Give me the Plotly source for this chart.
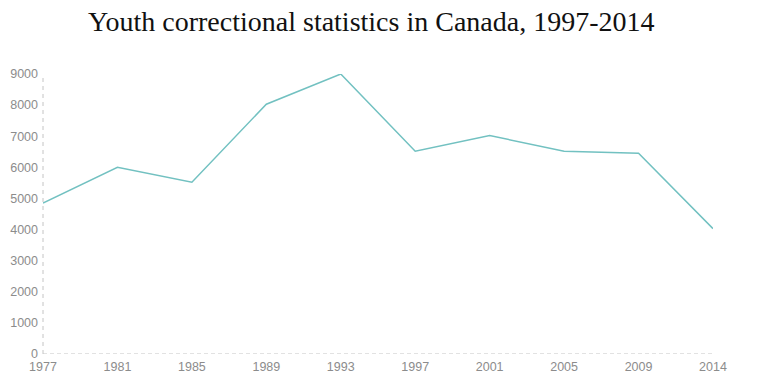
import plotly.graph_objects as go

years = ["1977", "1981", "1985", "1989", "1993", "1997", "2001", "2005", "2009", "2014"]
values = [4850, 6000, 5520, 8030, 9000, 6520, 7020, 6520, 6450, 4030]
y_ticks = [0, 1000, 2000, 3000, 4000, 5000, 6000, 7000, 8000, 9000]

fig = go.Figure()
fig.add_trace(go.Scatter(
    x=years, y=values, mode="lines",
    line=dict(color="#72c1c1", width=1.5),
    hoverinfo="x+y",
))

tick_font = dict(family="Liberation Sans, Arial, sans-serif", size=12.5, color="#8c8c8c")

fig.update_layout(
    width=764, height=387,
    margin=dict(l=43, r=51, t=74, b=33, autoexpand=False),
    paper_bgcolor="white", plot_bgcolor="white",
    showlegend=False,
    title=dict(
        text="Youth correctional statistics in Canada, 1997-2014",
        x=0.486, xanchor="center", y=0.945, yanchor="middle",
        font=dict(family="Liberation Serif, Times New Roman, serif", size=28, color="#111"),
        automargin=False,
    ),
    xaxis=dict(
        type="category", range=[0, 9], showgrid=False, zeroline=False, automargin=False,
        showline=False, ticks="", tickfont=tick_font,
        ticklabelstandoff=3,
    ),
    yaxis=dict(
        range=[0, 9000], tickvals=y_ticks, showgrid=False, zeroline=False, automargin=False,
        showline=False, ticks="", tickfont=tick_font,
        ticklabelstandoff=4,
    ),
    shapes=[
        dict(type="line", xref="paper", yref="y", x0=0, x1=1, y0=0, y1=0,
             line=dict(color="#c4c4c4", width=1, dash="4px,3px")),
        dict(type="line", xref="paper", yref="y", x0=0, x1=0, y0=0, y1=9000,
             line=dict(color="#c4c4c4", width=1, dash="4px,4px")),
    ],
)

fig.write_html(
    "out.html",
    config={"displayModeBar": False},
    post_script="document.body.style.margin='0';document.body.style.overflow='hidden';",
)
